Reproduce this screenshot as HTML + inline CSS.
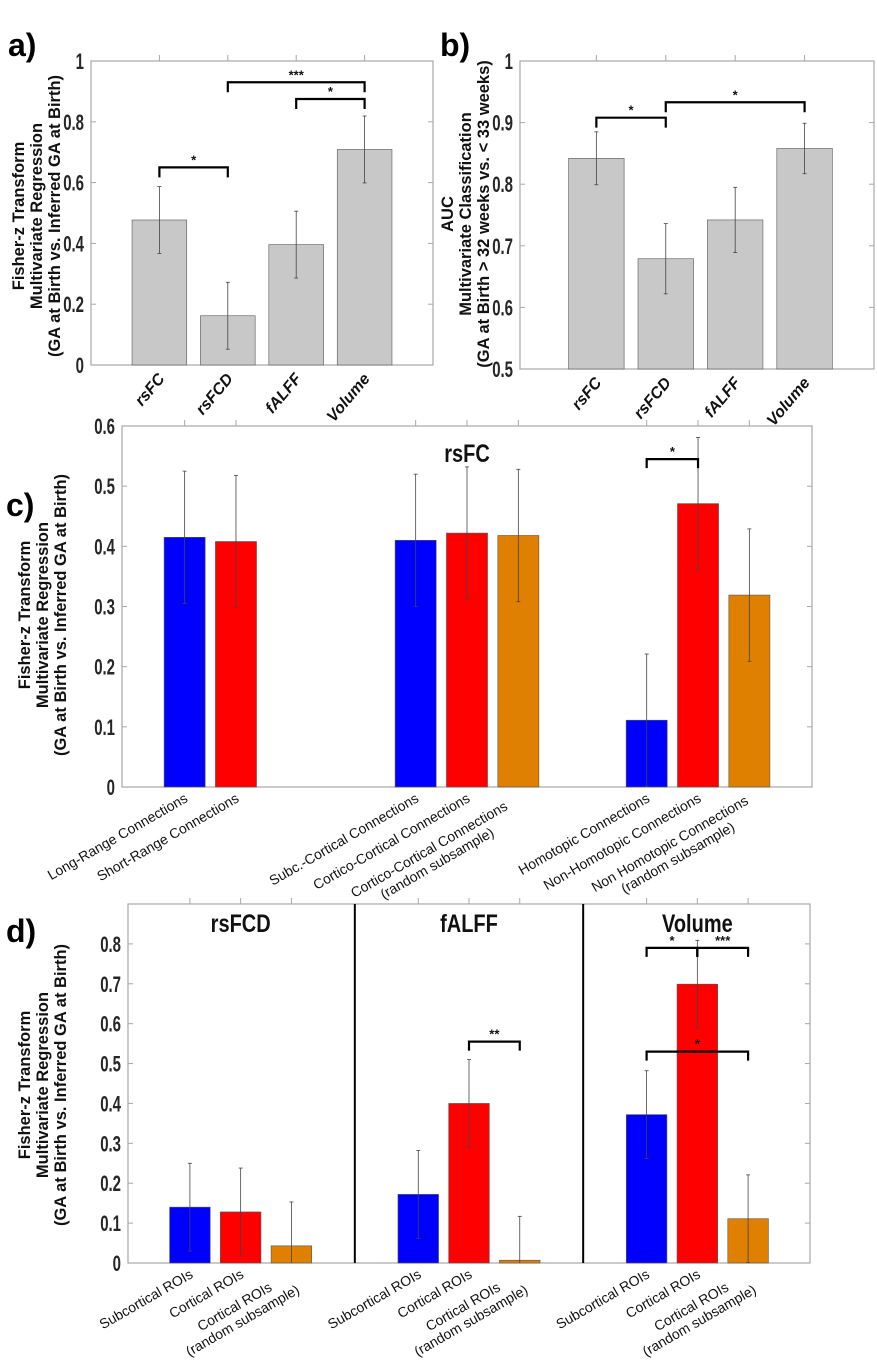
<!DOCTYPE html>
<html><head><meta charset="utf-8">
<style>
html,body{margin:0;padding:0;background:#fff;}
svg{display:block;}
.tk{font-family:"Liberation Sans",sans-serif;font-weight:bold;font-size:22px;fill:#262626;}
.xl{font-family:"Liberation Sans",sans-serif;font-weight:bold;font-style:italic;font-size:16px;fill:#111;}
.xl2{font-family:"Liberation Sans",sans-serif;font-size:14px;fill:#111;}
.yl{font-family:"Liberation Sans",sans-serif;font-weight:bold;font-size:16.5px;fill:#111;}
.pl{font-family:"Liberation Sans",sans-serif;font-weight:bold;font-size:32px;fill:#000;}
.ttl{font-family:"Liberation Sans",sans-serif;font-weight:bold;font-size:25px;fill:#111;}
.st{font-family:"Liberation Sans",sans-serif;font-weight:bold;font-size:13px;fill:#111;}
</style></head>
<body>
<svg id="fig" width="877" height="1361" viewBox="0 0 877 1361" xmlns="http://www.w3.org/2000/svg"></svg>
<script>
// Panel a data
const aCats = ["rsFC","rsFCD","fALFF","Volume"];
const aVals = [0.477,0.162,0.396,0.709];
const aErr = [0.110,0.110,0.110,0.110];
const aSig = [[1,2,0.65,"*"],[2,4,0.93,"***"],[3,4,0.875,"*"]];
const aTicks = ["0","0.2","0.4","0.6","0.8","1"];
// Panel b data
const bCats = ["rsFC","rsFCD","fALFF","Volume"];
const bVals = [0.842,0.679,0.742,0.858];
const bErr = [0.043,0.057,0.053,0.041];
const bSig = [[1,2,0.908,"*"],[2,4,0.933,"*"]];
const bTicks = ["0.5","0.6","0.7","0.8","0.9","1"];
// Panel c data
const cCats = ["Long-Range Connections","Short-Range Connections","Subc.-Cortical Connections","Cortico-Cortical Connections","Cortico-Cortical Connections|(random subsample)","Homotopic Connections","Non-Homotopic Connections","Non Homotopic Connections|(random subsample)"];
const cPos = [1,2,5.5,6.5,7.5,10,11,12];
const cVals = [0.415,0.408,0.410,0.422,0.418,0.111,0.471,0.319];
const cErr = [0.110,0.110,0.110,0.110,0.110,0.110,0.110,0.110];
const cColor = ["blue","red","blue","red","orange","blue","red","orange"];
const cSig = [[10,11,0.545,"*"]];
const cTicks = ["0","0.1","0.2","0.3","0.4","0.5","0.6"];
// Panel d data
const dCats = ["Subcortical ROIs","Cortical ROIs","Cortical ROIs|(random subsample)","Subcortical ROIs","Cortical ROIs","Cortical ROIs|(random subsample)","Subcortical ROIs","Cortical ROIs","Cortical ROIs|(random subsample)"];
const dPos = [1,2,3,5.5,6.5,7.5,10,11,12];
const dVals = [0.140,0.128,0.043,0.172,0.400,0.007,0.372,0.699,0.111];
const dErr = [0.110,0.110,0.110,0.110,0.110,0.110,0.110,0.110,0.110];
const dColor = ["blue","red","orange","blue","red","orange","blue","red","orange"];
const dSig = [[6.5,7.5,0.555,"**"],[10,11,0.79,"*"],[11,12,0.79,"***"],[10,12,0.53,"*"]];
const dTicks = ["0","0.1","0.2","0.3","0.4","0.5","0.6","0.7","0.8"];
const dTitles = ["rsFCD","fALFF","Volume"];

const NS="http://www.w3.org/2000/svg";
const svg=document.getElementById('fig');
const COL={gray:"#c8c8c8",blue:"#0000ff",red:"#ff0000",orange:"#e08000"};
function mk(tag,attrs,parent){const e=document.createElementNS(NS,tag);for(const k in attrs)e.setAttribute(k,attrs[k]);(parent||svg).appendChild(e);return e;}

function panel(cfg){
  const g=mk('g',{});
  
  
  const sx=v=>cfg.L+(v-cfg.x0)/(cfg.x1-cfg.x0)*(cfg.R-cfg.L);
  const sy=v=>cfg.B-(v-cfg.y0)/(cfg.y1-cfg.y0)*(cfg.B-cfg.T);
  const bw=0.8*(sx(1)-sx(0));
  const bg=mk('rect',{x:cfg.L,y:cfg.T,width:cfg.R-cfg.L,height:cfg.B-cfg.T,fill:'#fff',stroke:'#a8a8a8','stroke-width':1.2},g);
  
  
  cfg.ticks.forEach((t,i)=>{
    const v=parseFloat(t);const y=sy(v);
    mk('line',{x1:cfg.L,x2:cfg.L+5,y1:y,y2:y,stroke:'#a8a8a8'},g);
    mk('line',{x1:cfg.R,x2:cfg.R-5,y1:y,y2:y,stroke:'#a8a8a8'},g);
    const tx=mk('text',{transform:`translate(${cfg.L-7},${y+8}) scale(0.68,1)`,'text-anchor':'end',class:'tk'},g);
    tx.textContent=t;
    
    
  });
  (cfg.dividers||[]).forEach(dv=>{
    const l=mk('line',{x1:sx(dv),x2:sx(dv),y1:cfg.T,y2:cfg.B,stroke:'#000','stroke-width':2},g);
    
    
  });
  cfg.vals.forEach((v,i)=>{
    const p=cfg.pos[i];const x=sx(p);
    const r=mk('rect',{x:x-bw/2,y:sy(v),width:bw,height:sy(cfg.y0)-sy(v),fill:COL[cfg.colors[i]],stroke:'#555','stroke-width':0.6},g);
    
    
    mk('line',{x1:x,x2:x,y1:cfg.T-6,y2:cfg.T,stroke:'#a8a8a8'},g);
    const lo=Math.max(cfg.y0,v-cfg.err[i]),hi=v+cfg.err[i];
    const eb=mk('line',{x1:x,x2:x,y1:sy(lo),y2:sy(hi),stroke:'#444','stroke-width':0.8},g);
    
    
    mk('line',{x1:x-2,x2:x+2,y1:sy(hi),y2:sy(hi),stroke:'#444','stroke-width':0.8},g);
    if(v-cfg.err[i]>=cfg.y0) mk('line',{x1:x-2,x2:x+2,y1:sy(lo),y2:sy(lo),stroke:'#444','stroke-width':0.8},g);
    const lines=cfg.cats[i].split('|');
    const ly=cfg.B+cfg.lblOff;
    const lg=mk('g',{transform:`translate(${x+cfg.lblDx},${ly})`},g);
    const t=mk('text',{transform:`rotate(${cfg.rot})`,class:cfg.lblClass},lg);
    
    
    if(lines.length===1){t.setAttribute('text-anchor','end');t.textContent=lines[0];}
    else{
      const W=Math.max(...lines.map(s=>s.length))*cfg.cw;
      lines.forEach((s,k)=>{const ts=mk('tspan',{x:-W/2,y:k*16,'text-anchor':'middle'},t);ts.textContent=s;});
    }
  });
  cfg.sig.forEach(s=>{
    const y=sy(s[2]);const xa=sx(s[0]),xb=sx(s[1]);
    const br=mk('path',{d:`M${xa},${y+cfg.drop} L${xa},${y} L${xb},${y} L${xb},${y+cfg.drop}`,fill:'none',stroke:'#000','stroke-width':2.2},g);
    
    
    const st=mk('text',{x:(xa+xb)/2,y:y-3,'text-anchor':'middle',class:'st'},g);
    st.textContent=s[3];
    
    
  });
  const yl=mk('text',{transform:`translate(${cfg.ylx},${cfg.yly}) rotate(-90)`,'text-anchor':'middle',class:'yl'},g);
  
  
  cfg.ylab.forEach((s,k)=>{const ts=mk('tspan',{x:0,y:k*18},yl);ts.textContent=s;});
  const pl=mk('text',{x:cfg.plx,y:cfg.ply,class:'pl'},g);
  pl.textContent=cfg.panel;
  
  
  return {g,sx,sy};
}
const ylabReg=["Fisher-z Transform","Multivariate Regression","(GA at Birth vs. Inferred GA at Birth)"];
panel({name:'panel-a',panel:'a)',plx:8,ply:56,L:91,R:433,T:61,B:365,x0:0,x1:5,y0:0,y1:1,ticks:aTicks,cats:aCats,pos:[1,2,3,4],vals:aVals,err:aErr,colors:['gray','gray','gray','gray'],sig:aSig,drop:10,rot:-50,lblOff:14,lblDx:6,lblClass:'xl',cw:7,ylab:ylabReg,ylx:24,yly:216});
panel({name:'panel-b',panel:'b)',plx:440,ply:56,L:520,R:874,T:61,B:369,x0:-0.1,x1:5,y0:0.5,y1:1,ticks:bTicks,cats:bCats,pos:[1,2,3,4],vals:bVals,err:bErr,colors:['gray','gray','gray','gray'],sig:bSig,drop:10,rot:-50,lblOff:14,lblDx:6,lblClass:'xl',cw:7,ylab:["AUC","Multivariate Classification","(GA at Birth > 32 weeks vs. < 33 weeks)"],ylx:453,yly:214});
const c=panel({name:'panel-c',panel:'c)',plx:6,ply:516,L:122,R:812,T:426,B:787,x0:-0.22,x1:13.22,y0:0,y1:0.6,ticks:cTicks,cats:cCats,pos:cPos,vals:cVals,err:cErr,colors:cColor,sig:cSig,drop:9,rot:-30,lblOff:14,lblDx:4,lblClass:'xl2',cw:7.5,ylab:ylabReg,ylx:30,yly:615});
const ct=mk('text',{transform:`translate(${c.sx(6.5)},462) scale(0.8,1)`,'text-anchor':'middle',class:'ttl'},c.g);ct.textContent='rsFC';


const d=panel({name:'panel-d',panel:'d)',plx:6,ply:942,L:128,R:810,T:904,B:1263,x0:-0.22,x1:13.22,y0:0,y1:0.9,ticks:dTicks,cats:dCats,pos:dPos,vals:dVals,err:dErr,colors:dColor,sig:dSig,drop:9,rot:-30,lblOff:14,lblDx:4,lblClass:'xl2',cw:7.5,ylab:ylabReg,ylx:30,yly:1085,dividers:[4.25,8.75]});
mk('line',{x1:d.sx(11),x2:d.sx(11),y1:d.sy(0.79),y2:d.sy(0.79)+9,stroke:'#000','stroke-width':2},d.g);
[[2,dTitles[0]],[6.5,dTitles[1]],[11,dTitles[2]]].forEach(p=>{
  const t=mk('text',{transform:`translate(${d.sx(p[0])},932) scale(0.8,1)`,'text-anchor':'middle',class:'ttl'},d.g);t.textContent=p[1];
  
  
});
</script>
</body></html>
